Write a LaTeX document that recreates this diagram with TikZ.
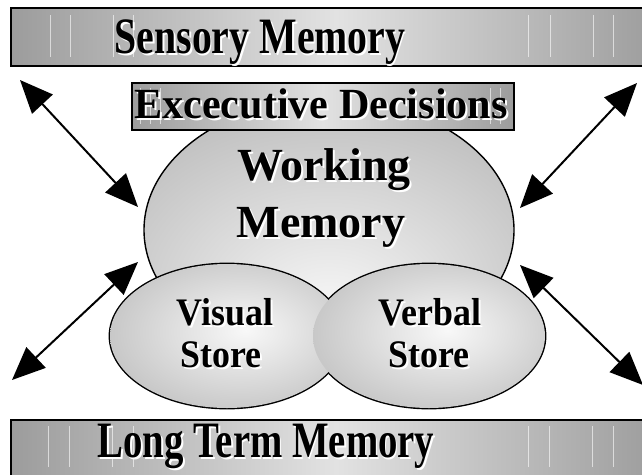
\documentclass[tikz,border=0pt]{standalone}
\usepackage{fontspec}
\setmainfont{Liberation Serif}
\usetikzlibrary{shapes.geometric,arrows.meta}
\definecolor{barEdge}{HTML}{9C9C9C}
\definecolor{barMid}{HTML}{E2E2E2}
\definecolor{ellOut}{HTML}{A8A8A8}
\definecolor{ellIn}{HTML}{F8F8F8}
\pgfdeclareradialshading{wmshade}{\pgfpoint{0bp}{-16bp}}{color(0bp)=(ellIn); color(48bp)=(ellOut); color(80bp)=(ellOut)}
\pgfdeclareradialshading{stshade}{\pgfpoint{4bp}{2bp}}{color(0bp)=(ellIn); color(46bp)=(ellOut); color(80bp)=(ellOut)}
\newcommand\shtxt[1]{\rlap{\hspace{2pt}\raisebox{-2pt}{\color{white}#1}}#1}
\begin{document}
\begin{tikzpicture}[x=1pt,y=-1pt,
  bar/.style={draw=black, line width=2.2pt, rectangle, inner sep=0pt,
    left color=barEdge, right color=barEdge, middle color=barMid},
  blob/.style={ellipse, inner sep=0pt, line width=1.4pt},
  blobfill/.style={ellipse, inner sep=0pt, shading=stshade},
  lbl/.style={inner sep=0pt, anchor=base, font=\bfseries},
  streak/.style={draw=white, line width=0.6pt, opacity=0.6},
  arr/.style={line width=2pt, {Triangle[length=33pt,width=28pt]}-{Triangle[length=33pt,width=28pt]}}]
\useasboundingbox (0,0) rectangle (642,474);
\fill[white] (0,0) rectangle (642,474);
\begin{scope}
\clip (0,0) rectangle (642,474);
% bars
\node[bar, minimum width=650pt, minimum height=58pt, anchor=north west] (sensory) at (10,7) {};
\foreach \x in {50,70,113,133,528,550,593,613} \draw[streak] (\x,15) -- (\x,57);
\node[bar, minimum width=650pt, minimum height=70pt, anchor=north west] (longterm) at (10,419) {};
\foreach \x in {48,69,112,133,528,549,592,613} \draw[streak] (\x,426) -- (\x,467);
% working memory
\node[blob, draw=black, shading=wmshade, minimum width=370pt, minimum height=262pt] (wm) at (329,230) {};
% executive box
\node[bar, minimum width=382pt, minimum height=47pt, anchor=north west] (exec) at (131,82) {};
\foreach \x in {140,150,160,490,500} \draw[streak] (\x,88) -- (\x,124);
% stores: outlines first, then fills
\node[blob, draw=black, line width=2.8pt, minimum width=234pt, minimum height=144pt] (vsO) at (227,336) {};
\node[blob, draw=black, line width=2.8pt, minimum width=232pt, minimum height=144pt] (vbO) at (429,336) {};
\node[blobfill, minimum width=234pt, minimum height=144pt] (vs) at (227,336) {};
\node[blobfill, minimum width=232pt, minimum height=144pt] (vb) at (429,336) {};
\end{scope}
% labels
\node[lbl] (sensT) at (260,53) {\scalebox{0.78}[1]{\fontsize{51}{51}\selectfont\shtxt{Sensory Memory}}};
\node[lbl] (ltT) at (266,457) {\scalebox{0.76}[1]{\fontsize{51}{51}\selectfont\shtxt{Long Term Memory}}};
\node[lbl] (execT) at (321,118) {\scalebox{0.98}[1]{\fontsize{43}{43}\selectfont\shtxt{Excecutive Decisions}}};
\node[lbl] (wmT1) at (324,180) {\fontsize{46}{46}\selectfont\shtxt{Working}};
\node[lbl] (wmT2) at (321,237) {\fontsize{46}{46}\selectfont\shtxt{Memory}};
\node[lbl] (vsT1) at (225,325) {\scalebox{0.92}[1]{\fontsize{39}{39}\selectfont\shtxt{Visual}}};
\node[lbl] (vsT2) at (221,367) {\scalebox{0.92}[1]{\fontsize{39}{39}\selectfont\shtxt{Store}}};
\node[lbl] (vbT1) at (430,325) {\scalebox{0.92}[1]{\fontsize{39}{39}\selectfont\shtxt{Verbal}}};
\node[lbl] (vbT2) at (429,367) {\scalebox{0.92}[1]{\fontsize{39}{39}\selectfont\shtxt{Store}}};
% arrows
\coordinate (a1o) at (20,80);   \coordinate (a1i) at (138,207);
\coordinate (a2i) at (138,262); \coordinate (a2o) at (12,380);
\coordinate (a3o) at (637,83);  \coordinate (a3i) at (520,208);
\coordinate (a4i) at (520,265); \coordinate (a4o) at (643,385);
\draw[arr] (a1o) -- (a1i);
\draw[arr] (a2i) -- (a2o);
\draw[arr] (a3o) -- (a3i);
\draw[arr] (a4i) -- (a4o);
\end{tikzpicture}
\end{document}
